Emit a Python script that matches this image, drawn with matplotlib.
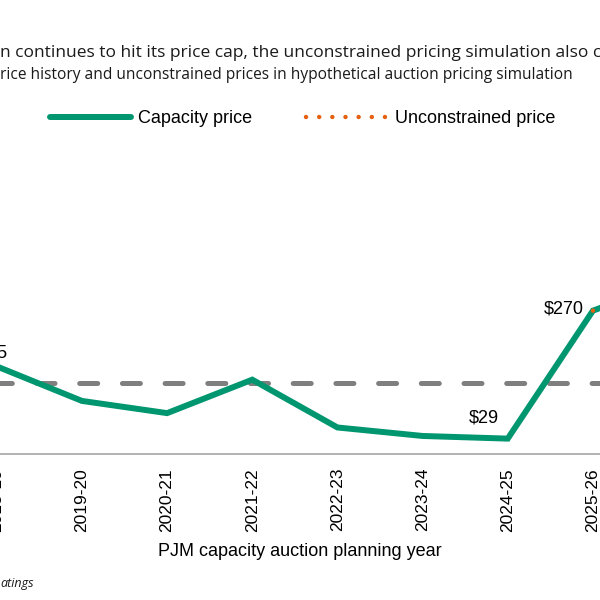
import matplotlib
matplotlib.use("Agg")
import matplotlib.pyplot as plt
from matplotlib.lines import Line2D

plt.rcParams["font.family"] = ["Liberation Sans", "DejaVu Sans"]

# data ($/MW-day)
years = ["2018-19", "2019-20", "2020-21", "2021-22", "2022-23",
         "2023-24", "2024-25", "2025-26", "2026-27"]
capacity_price = [165, 100, 77, 140, 50, 34, 29, 270, 329]
unconstrained_years = ["2025-26", "2026-27"]
unconstrained_price = [270, 389]
reference_price = 134
labelled_years = ["2018-19", "2024-25", "2025-26"]

GREEN = "#00966F"
ORANGE = "#E5600F"
GRAY = "#7F7F7F"


def main():
    fig = plt.figure(figsize=(6, 6), dpi=100)
    # axes starts a little left of the canvas so the 2018-19 tick is kept
    ax = fig.add_axes([-20 / 600, 0.2433, 620 / 600, 0.4425])

    xs = list(range(len(years)))
    ax.axhline(reference_price, color=GRAY, lw=3.6,
               ls=(1.04, (3.6, 4.94)), dash_capstyle="round", zorder=1)
    ax.plot(xs, capacity_price, color=GREEN, lw=4.3,
            solid_joinstyle="miter", zorder=2)
    ux = [years.index(y) for y in unconstrained_years]
    ax.plot(ux, unconstrained_price, color=ORANGE, lw=3.2,
            ls=(0, (0.01, 2.95)), dash_capstyle="round", zorder=3)

    # value labels
    offsets = {"2018-19": (8, 10), "2024-25": (-6.5, 15), "2025-26": (-6.5, 1.5)}
    for y in labelled_years:
        i = years.index(y)
        ax.annotate(f"${capacity_price[i]}", (i, capacity_price[i]),
                    xytext=offsets[y], textcoords="offset points",
                    ha="right", va="center", fontsize=13,
                    annotation_clip=False)

    ax.set_xticks(xs, years, rotation=90, fontsize=12.5)
    ax.set_xlim(-0.197, 7.083)
    ax.set_ylim(0, 500)
    ax.tick_params(axis="x", length=0, pad=10)
    ax.set_yticks([])
    for s in ["top", "left", "right"]:
        ax.spines[s].set_visible(False)
    ax.spines["bottom"].set_color("#A6A6A6")
    ax.spines["bottom"].set_linewidth(1.2)

    h1 = Line2D([], [], color=GREEN, lw=4.3, solid_capstyle="round")
    h2 = Line2D([], [], color=ORANGE, lw=3.2, ls=(0, (0.01, 2.95)),
                dash_capstyle="round")
    fig.legend([h1, h2], ["Capacity price", "Unconstrained price"],
               loc="center", bbox_to_anchor=(0.504, 0.802), ncol=2,
               frameon=False, fontsize=13, handlelength=4.5,
               handletextpad=0.4, columnspacing=3.0)

    fig.text(0.0, 1 - 53 / 600,
             "n continues to hit its price cap, the unconstrained pricing simulation also c",
             family="Open Sans", fontsize=12.5, ha="left", va="center", color="#1a1a1a")
    fig.text(0.0, 1 - 75 / 600,
             "rice history and unconstrained prices in hypothetical auction pricing simulation",
             family="Open Sans", fontsize=11.2, ha="left", va="center", color="#1a1a1a")
    fig.text(0.5, 1 - 552 / 600, "PJM capacity auction planning year",
             ha="center", va="center", fontsize=13)
    fig.text(0.0, 1 - 584 / 600, "atings", family="Open Sans", style="italic",
             fontsize=9, ha="left", va="center", color="#1a1a1a")

    fig.savefig("out.png", dpi=100)


if __name__ == "__main__":
    main()
